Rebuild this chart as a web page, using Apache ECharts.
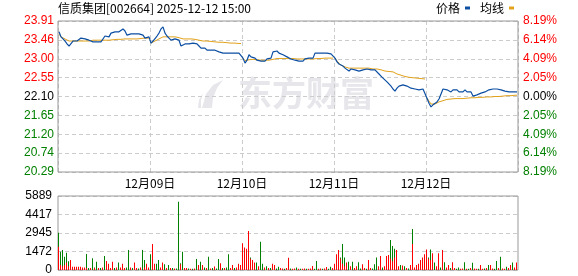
<!DOCTYPE html>
<html>
<head>
<meta charset="utf-8">
<script src="https://cdn.jsdelivr.net/npm/echarts@6/dist/echarts.min.js"></script>
<style>
html,body{margin:0;padding:0;background:#fff;}
#c{width:578px;height:276px;}
</style>
</head>
<body>
<div id="c"></div>
<script>
// ---------- data ----------
var titleText = '信质集团[002664] 2025-12-12 15:00';
var dateLabels = ['12月09日', '12月10日', '12月11日', '12月12日'];
var preClose = 22.10;
var leftLabels = ['23.91', '23.46', '23.00', '22.55', '22.10', '21.65', '21.20', '20.74', '20.29'];
var rightLabels = ['8.19%', '6.14%', '4.09%', '2.05%', '0.00%', '2.05%', '4.09%', '6.14%', '8.19%'];
var volLabels = ['0', '1472', '2945', '4417', '5889'];
var volMax = 5889;

// price, 46 samples per trading day (5 days)
var price = [
  23.65,23.53,23.48,23.43,23.36,23.31,23.33,23.43,23.45,23.43,23.45,23.50,23.53,23.48,23.45,23.45,23.43,23.41,23.38,23.41,23.38,23.41,23.41,23.55,23.57,23.53,23.62,23.62,23.65,23.62,23.65,23.67,23.72,23.67,23.57,23.53,23.60,23.62,23.60,23.62,23.60,23.57,23.57,23.50,23.50,23.53,
  23.38,23.43,23.41,23.55,23.62,23.72,23.77,23.62,23.55,23.50,23.45,23.43,23.48,23.45,23.45,23.31,23.33,23.36,23.33,23.36,23.36,23.38,23.38,23.36,23.31,23.26,23.24,23.26,23.21,23.24,23.21,23.19,23.21,23.21,23.17,23.17,23.14,23.12,23.14,23.12,23.14,23.17,23.14,23.17,23.14,23.14,
  23.02,22.90,22.97,23.10,23.05,23.02,23.02,22.97,22.93,22.95,22.97,22.95,23.00,22.97,23.02,23.17,23.21,23.19,23.14,23.14,23.10,23.07,23.05,23.05,23.00,23.00,22.97,22.97,22.95,22.97,22.95,23.00,23.02,23.02,23.00,23.02,23.14,23.17,23.14,23.17,23.14,23.14,23.14,23.12,23.12,23.10,
  23.02,22.93,22.88,22.85,22.83,22.78,22.74,22.71,22.76,22.78,22.74,22.76,22.71,22.69,22.74,22.78,22.76,22.74,22.74,22.74,22.74,22.71,22.64,22.59,22.54,22.50,22.45,22.42,22.35,22.28,22.23,22.30,22.35,22.35,22.38,22.42,22.35,22.33,22.30,22.30,22.28,22.28,22.26,22.28,22.28,22.26,
  22.06,21.94,21.85,21.90,21.92,21.97,22.04,22.16,22.28,22.30,22.26,22.23,22.21,22.26,22.23,22.26,22.21,22.23,22.21,22.26,22.21,22.23,22.21,22.11,22.09,22.14,22.16,22.18,22.16,22.21,22.23,22.26,22.23,22.28,22.30,22.28,22.26,22.26,22.26,22.23,22.21,22.21,22.21,22.21,22.23,22.21
];

// average price line (resets each day)
var avgPrice = [
  23.60,23.53,23.50,23.48,23.45,23.43,23.43,23.43,23.43,23.43,23.43,23.43,23.43,23.43,23.43,23.43,23.44,23.45,23.45,23.45,23.45,23.45,23.45,23.45,23.45,23.45,23.46,23.46,23.46,23.47,23.47,23.47,23.48,23.48,23.48,23.48,23.48,23.48,23.48,23.48,23.48,23.49,23.49,23.50,23.50,23.50,
  23.38,23.41,23.43,23.45,23.48,23.50,23.53,23.53,23.53,23.53,23.53,23.53,23.53,23.53,23.51,23.49,23.48,23.48,23.48,23.48,23.48,23.48,23.47,23.47,23.45,23.45,23.43,23.43,23.43,23.42,23.42,23.42,23.41,23.41,23.40,23.40,23.40,23.39,23.39,23.38,23.38,23.38,23.38,23.38,23.37,23.37,
  23.02,22.96,22.96,22.98,22.99,22.99,22.99,22.98,22.97,22.97,22.97,22.97,22.97,22.97,22.97,22.99,23.00,23.01,23.01,23.01,23.01,23.01,23.01,23.01,23.01,23.01,23.00,23.00,23.00,23.00,23.00,23.00,23.00,23.00,23.00,23.00,23.01,23.01,23.01,23.01,23.01,23.02,23.02,23.02,23.02,23.02,
  23.02,22.95,22.90,22.85,22.83,22.81,22.81,22.78,22.78,22.78,22.78,22.78,22.78,22.78,22.78,22.78,22.78,22.78,22.78,22.76,22.76,22.76,22.74,22.74,22.73,22.71,22.71,22.70,22.69,22.69,22.67,22.64,22.62,22.61,22.59,22.58,22.57,22.56,22.56,22.55,22.54,22.54,22.54,22.53,22.53,22.52,
  22.06,21.99,21.92,21.90,21.92,21.94,21.97,21.99,22.00,22.02,22.03,22.03,22.04,22.04,22.05,22.05,22.05,22.05,22.05,22.05,22.06,22.06,22.07,22.07,22.07,22.07,22.08,22.08,22.08,22.08,22.09,22.09,22.09,22.09,22.10,22.10,22.10,22.11,22.11,22.11,22.12,22.12,22.12,22.13,22.13,22.13
];

// volume of falling minutes (green)
var volGreen = [
  2970,1460,1590,1060,1380,700,0,0,150,0,0,120,150,0,1270,150,0,930,200,660,0,150,0,1110,0,200,0,0,150,0,600,150,0,0,200,1590,0,150,0,0,120,0,1590,800,0,0,
  1250,0,0,500,800,0,0,450,0,400,0,150,0,120,5430,530,1460,0,0,120,0,100,0,870,150,660,0,200,0,1060,0,150,0,120,870,0,150,0,200,1250,0,0,150,0,0,300,
  800,600,1100,900,1000,400,0,600,0,2250,500,0,300,0,150,0,0,120,250,0,0,100,0,0,120,0,0,200,0,100,0,0,100,0,0,0,100,720,0,0,100,0,0,100,260,0,
  0,300,500,1000,2070,1000,0,660,0,660,0,0,610,120,0,0,100,0,0,120,450,1000,0,0,200,0,0,600,2390,1900,1700,0,0,400,0,300,0,120,0,3260,0,0,0,0,600,0,
  0,1000,1640,0,600,0,0,200,0,610,0,0,150,0,0,100,200,0,0,610,0,100,0,580,0,0,100,0,0,120,0,400,0,0,100,720,0,1060,0,0,260,0,0,600,0,0
];
// volume of rising minutes (red)
var volRed = [
  1850,400,300,400,600,300,800,250,250,250,260,250,200,200,150,0,150,0,150,0,150,0,200,0,720,500,150,660,0,200,0,200,500,150,0,0,200,0,600,150,0,200,0,200,500,200,
  0,2070,500,0,0,200,600,0,150,0,150,0,120,0,0,450,0,150,150,0,100,0,120,0,400,0,400,0,150,0,120,0,270,0,0,530,0,150,0,0,150,400,0,200,500,400,
  2120,1800,1700,3100,900,800,600,0,300,0,0,200,0,150,0,500,400,0,0,150,120,0,150,980,0,100,120,0,100,0,100,120,0,100,120,320,0,0,100,120,0,120,240,0,0,150,
  500,1250,1590,900,500,300,600,0,300,0,150,300,0,0,450,150,0,800,150,0,0,0,300,1110,0,300,1110,1200,900,700,1000,1590,300,0,350,0,150,0,400,2070,200,400,500,800,1000,1250,
  1640,900,800,1330,0,300,1330,0,1590,0,200,400,0,610,150,0,0,100,120,0,100,0,150,0,120,100,0,400,100,0,150,0,400,120,0,0,150,0,120,100,0,150,400,0,200,600
];

// ---------- build ----------
var perDay = 46, nPts = price.length, steps = 4;
var step = 0.4525; // price per gridline
function toUnit(p){ return (p - preClose) / step; }
var priceData = price.map(function(p,i){ return [i + 0.5, toUnit(p)]; });
var avgSeriesData = [];
avgPrice.forEach(function(p,i){
  if (i > 0 && i % perDay === 0) avgSeriesData.push([i, null]);
  avgSeriesData.push([i + 0.5, toUnit(p)]);
});
var redData = [], greenData = [];
volRed.forEach(function(v,i){ if (v > 0) redData.push([i + 0.25, v]); });
volGreen.forEach(function(v,i){ if (v > 0) greenData.push([i + 0.25, v]); });

var RED = '#ff0000', GREEN = '#008000', BLUE = '#0b4ea2', GOLD = '#e2a21c';
var numFont = 'Liberation Sans';
var cjkFont = 'Noto Sans CJK SC';
var dash = { color: '#cccccc', type: [4, 3], width: 1 };
function labColor(v){ return v > 0.01 ? RED : (v < -0.01 ? GREEN : '#000'); }

var chart = echarts.init(document.getElementById('c'), null, { renderer: 'canvas' });
chart.setOption({
  animation: false,
  backgroundColor: '#fff',
  title: {
    text: titleText, left: 58, top: 2, padding: 0,
    textStyle: { fontSize: 12, fontWeight: 'normal', color: '#000', fontFamily: cjkFont }
  },
  legend: {
    data: ['价格', '均线'], right: 64, top: 2, padding: 0, align: 'right',
    itemWidth: 5, itemHeight: 3, itemGap: 10, icon: 'rect',
    textStyle: { fontSize: 12, color: '#000', fontFamily: cjkFont }
  },
  graphic: [
    { type: 'polygon', z: 0, silent: true,
      shape: { points: [[202,108],[206,94],[213,85],[223,80],[217,88],[213,98],[212,108]] },
      style: { fill: '#e6e6eb' } },
    { type: 'polygon', z: 0, silent: true,
      shape: { points: [[198,108],[199,100],[203,93],[201,100],[201,108]] },
      style: { fill: '#e6e6eb' } },
    { type: 'text', x: 238, y: 76, z: 0, silent: true,
      style: { text: '东方财富', fontSize: 34, fontWeight: 'bold', fontFamily: cjkFont, fill: '#e6e6eb' } }
  ],
  grid: [
    { left: 58, top: 21, width: 460, height: 151, show: true, borderColor: '#999', borderWidth: 1, z: 1 },
    { left: 58, top: 196, width: 460, height: 74, show: true, borderColor: '#999', borderWidth: 1, z: 1 }
  ],
  xAxis: [
    { type: 'value', gridIndex: 0, min: 0, max: nPts, interval: perDay,
      axisLine: { show: false }, axisTick: { show: false },
      axisLabel: { margin: 5, fontSize: 12, color: '#000', fontFamily: cjkFont,
        showMinLabel: true, showMaxLabel: true,
        formatter: function(v){ var k = Math.round(v / perDay); return (k >= 1 && k <= dateLabels.length) ? dateLabels[k - 1] : ''; } },
      splitLine: { show: true, lineStyle: dash } },
    { type: 'value', gridIndex: 1, min: 0, max: nPts, interval: perDay,
      axisLine: { show: false }, axisTick: { show: false }, axisLabel: { show: false },
      splitLine: { show: false } }
  ],
  yAxis: [
    { type: 'value', gridIndex: 0, min: -steps, max: steps, interval: 1,
      axisLine: { show: false }, axisTick: { show: false },
      axisLabel: { margin: 4, fontSize: 12, fontFamily: numFont,
        formatter: function(v){ return leftLabels[Math.round(steps - v)]; },
        color: function(v){ return labColor(+v); } },
      splitLine: { show: true, lineStyle: dash } },
    { type: 'value', gridIndex: 0, position: 'right', min: -steps, max: steps, interval: 1,
      axisLine: { show: false }, axisTick: { show: false },
      axisLabel: { margin: 5, fontSize: 12, fontFamily: numFont,
        formatter: function(v){ return rightLabels[Math.round(steps - v)]; },
        color: function(v){ return labColor(+v); } },
      splitLine: { show: false } },
    { type: 'value', gridIndex: 1, min: 0, max: volMax, interval: volMax / 4,
      axisLine: { show: false }, axisTick: { show: false },
      axisLabel: { margin: 6, fontSize: 12, color: '#000', fontFamily: numFont,
        formatter: function(v){ return volLabels[Math.round(v / (volMax / 4))]; } },
      splitLine: { show: true, lineStyle: dash } }
  ],
  series: [
    { name: '均线', type: 'line', xAxisIndex: 0, yAxisIndex: 0, data: avgSeriesData,
      showSymbol: false, connectNulls: false, z: 3,
      lineStyle: { color: GOLD, width: 1 }, itemStyle: { color: GOLD } },
    { name: '价格', type: 'line', xAxisIndex: 0, yAxisIndex: 0, data: priceData,
      showSymbol: false, z: 4,
      lineStyle: { color: BLUE, width: 1.2 }, itemStyle: { color: BLUE } },
    { name: 'vg', type: 'bar', xAxisIndex: 1, yAxisIndex: 2, data: greenData,
      barWidth: 1, barGap: '-100%', itemStyle: { color: GREEN }, z: 2 },
    { name: 'vr', type: 'bar', xAxisIndex: 1, yAxisIndex: 2, data: redData,
      barWidth: 1, barGap: '-100%', itemStyle: { color: RED }, z: 3 }
  ]
});
</script>
</body>
</html>
